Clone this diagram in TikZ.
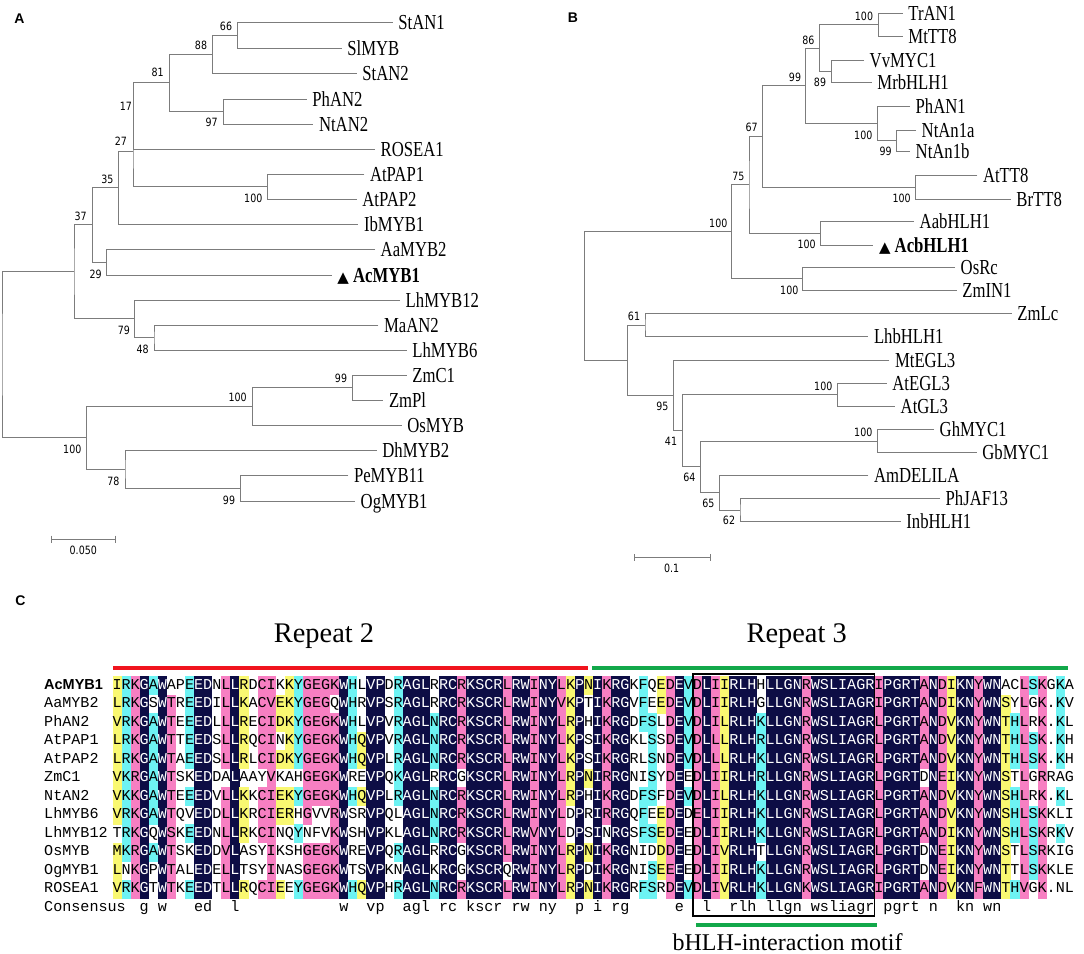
\documentclass[tikz,border=0pt]{standalone}
\usepackage{fontspec}
\usepackage{graphicx}
\setmainfont{Liberation Serif}
\newfontfamily\monof{Liberation Mono}
\newfontfamily\sansf{Liberation Sans}
\newfontfamily\bootf{DejaVu Sans}
\definecolor{alnavy}{HTML}{0D0D45}
\definecolor{alpink}{HTML}{F77FC2}
\definecolor{alcyan}{HTML}{6DF3F3}
\definecolor{alyellow}{HTML}{F9F871}
\definecolor{treegray}{HTML}{7C7C7C}
\definecolor{repred}{HTML}{F0141E}
\definecolor{repgreen}{HTML}{12A84A}

\newcommand\stretchlab[1]{\scalebox{1}[1.28]{#1}}
\newcommand\stretchnum[1]{\scalebox{1}[1.2]{#1}}
\def\alnavyname{alnavy}
\newcommand\alcell[4]{%
  \def\alfillc{#3}%
  \ifx\alfillc\empty\else
    \fill[fill=\alfillc] ({112.5+(#1-1)*9.07},{685+(#2-1)*18.5-8.6}) rectangle ++(9.17,18.6);%
  \fi
  \ifx\alfillc\alnavyname\def\altextc{white}\else\def\altextc{black}\fi
  \node[alchar,text=\altextc] (c#1r#2) at ({112.5+(#1-0.5)*9.07},{685+(#2-1)*18.5+4.3}) {#4};%
}
\newcommand\alcons[2]{%
  \node[alchar] (cons#1) at ({112.5+(#1-0.5)*9.07},{911.3}) {#2};%
}

\ExplSyntaxOn
\int_new:N \l_al_cnt_int
\int_new:N \l_al_max_int
\tl_new:N \l_al_best_tl
\tl_new:N \l_al_ch_tl
\tl_new:N \l_al_lvl_tl
\bool_new:N \l_al_fill_bool
\tl_const:cn { c_al_row_1_tl }  { IRKGAWAPEE DNLLRDCIKK YGEGKWHLVP DRAGLRRCRK SCRLRWINYL KPNIKRGKFQ EDEVDLIIRL HHLLGNRWSL IAGRIPGRTA NDIKNYWNAC LSKGKA }
\tl_const:cn { c_al_row_2_tl }  { LRKGSWTREE DILLKACVEK YGEGQWHRVP SRAGLRRCRK SCRLRWINYV KPTIKRGVFE EDEVDLIIRL HGLLGNRWSL IAGRIPGRTA NDIKNYWNSY LGK.KV }
\tl_const:cn { c_al_row_3_tl }  { VRKGAWTEEE DLLLRECIDK YGEGKWHLVP VRAGLNRCRK SCRLRWINYL RPHIKRGDFS LDEVDLILRL HKLLGNRWSL IAGRLPGRTA NDVKNYWNTH LRK.KL }
\tl_const:cn { c_al_row_4_tl }  { LRKGAWTTEE DSLLRQCINK YGEGKWHQVP VRAGLNRCRK SCRLRWINYL KPSIKRGKLS SDEVDLLLRL HRLLGNRWSL IAGRLPGRTA NDVKNYWNTH LSK.KH }
\tl_const:cn { c_al_row_5_tl }  { LRKGAWTAEE DSLLRLCIDK YGEGKWHQVP LRAGLNRCRK SCRLRWINYL KPSIKRGRLS NDEVDLLLRL HKLLGNRWSL IAGRLPGRTA NDVKNYWNTH LSK.KH }
\tl_const:cn { c_al_row_6_tl }  { VKRGAWTSKE DDALAAYVKA HGEGKWREVP QKAGLRRCGK SCRLRWINYL RPNIRRGNIS YDEEDLIIRL HRLLGNRWSL IAGRLPGRTD NEIKNYWNST LGRRAG }
\tl_const:cn { c_al_row_7_tl }  { VKKGAWTEEE DVLLKKCIEK YGEGKWHQVP LRAGLNRCRK SCRLRWINYL RPHIKRGDFS FDEVDLILRL HKLLGNRWSL IAGRLPGRTA NDVKNYWNSH LRK.KL }
\tl_const:cn { c_al_row_8_tl }  { VRKGAWTQVE DDLLKRCIER HGVVRWSRVP QLAGLNRCRK SCRLRWINYL DPRIRRGQFE EDEDELIIRL HKLLGNRWSL IAGRLPGRTA NDVKNYWNSH LSKKLI }
\tl_const:cn { c_al_row_9_tl }  { TRKGQWSKEE DNLLRKCINQ YNFVKWSHVP KLAGLNRCRK SCRLRWVNYL DPSINRGSFS EDEEDLIIRL HKLLGNRWSL IAGRLPGRTA NDIKNYWNSH LSKRKV }
\tl_const:cn { c_al_row_10_tl } { MKRGAWTSKE DDVLASYIKS HGEGKWREVP QRAGLRRCGK SCRLRWINYL RPNIKRGNID DDEEDLIVRL HTLLGNRWSL IAGRLPGRTD NEIKNYWNST LSRKIG }
\tl_const:cn { c_al_row_11_tl } { LNKGPWTALE DELLTSYINA SGEGKWTSVP KNAGLKRCGK SCRQRWINYL RPDIKRGNIS EEEEDLIIRL HKLLGNRWSL IAGRLPGRTD NEIKNYWNTT LSKKLE }
\tl_const:cn { c_al_row_12_tl } { VRKGTWTKEE DTLLRQCIEE YGEGKWHQVP HRAGLNRCRK SCRLRWINYL RPNIKRGRFS RDEVDLIVRL HKLLGNKWSL IAGRIPGRTA NDVKNFWNTH VGK.NL }
\cs_new:Npn \al_ch:nn #1#2 { \tl_item:cn { c_al_row_#1_tl } {#2} }
\cs_new:Npn \al_grp:n #1
  {
    \str_case:nnF {#1}
      {
        {I}{1} {L}{1} {V}{1} {M}{1}
        {K}{2} {R}{2}
        {D}{3} {E}{3}
        {N}{4} {Q}{4}
        {S}{5} {T}{5}
        {F}{6} {Y}{6} {W}{6}
      }
      {#1}
  }
\cs_generate_variant:Nn \al_grp:n { V }
\cs_new_protected:Npn \al_count:nn #1#2
  {
    \int_zero:N \l_al_cnt_int
    \int_step_inline:nn { 12 }
      {
        \str_if_eq:eeT { \al_ch:nn {##1} {#1} } {#2}
          { \int_incr:N \l_al_cnt_int }
      }
  }
\cs_generate_variant:Nn \al_count:nn { nV }
\cs_new_protected:Npn \al_column:n #1
  {
    \int_zero:N \l_al_max_int
    \tl_clear:N \l_al_best_tl
    \int_step_inline:nn { 12 }
      {
        \tl_set:Nx \l_al_ch_tl { \al_ch:nn {##1} {#1} }
        \str_if_eq:VnF \l_al_ch_tl { . }
          {
            \al_count:nV {#1} \l_al_ch_tl
            \int_compare:nNnT \l_al_cnt_int > \l_al_max_int
              {
                \int_set_eq:NN \l_al_max_int \l_al_cnt_int
                \tl_set_eq:NN \l_al_best_tl \l_al_ch_tl
              }
          }
      }
    \int_compare:nNnTF \l_al_max_int = { 12 }
      { \tl_set:Nn \l_al_lvl_tl { alnavy } }
      {
        \int_compare:nNnTF \l_al_max_int > { 8 }
          { \tl_set:Nn \l_al_lvl_tl { alpink } }
          {
            \int_compare:nNnTF \l_al_max_int > { 6 }
              { \tl_set:Nn \l_al_lvl_tl { alcyan } }
              {
                \int_compare:nNnTF \l_al_max_int > { 3 }
                  { \tl_set:Nn \l_al_lvl_tl { alyellow } }
                  { \tl_clear:N \l_al_lvl_tl }
              }
          }
      }
    \int_step_inline:nn { 12 }
      {
        \tl_set:Nx \l_al_ch_tl { \al_ch:nn {##1} {#1} }
        \bool_set_false:N \l_al_fill_bool
        \tl_if_empty:NF \l_al_lvl_tl
          {
            \str_if_eq:eeT { \al_grp:V \l_al_ch_tl } { \al_grp:V \l_al_best_tl }
              { \bool_set_true:N \l_al_fill_bool }
          }
        \bool_if:NTF \l_al_fill_bool
          { \use:e { \exp_not:N \alcell {#1} {##1} { \l_al_lvl_tl } { \l_al_ch_tl } } }
          { \use:e { \exp_not:N \alcell {#1} {##1} { } { \l_al_ch_tl } } }
      }
    \int_compare:nNnT \l_al_max_int = { 12 }
      { \use:e { \exp_not:N \alcons {#1} { \str_lowercase:f { \l_al_best_tl } } } }
  }
\cs_new_protected:Npn \DrawAlignment
  { \int_step_function:nN { 106 } \al_column:n }
\ExplSyntaxOff

\begin{document}
\begin{tikzpicture}[x=1pt,y=-1pt,
  branch/.style={draw=treegray,line width=1pt},
  leaflab/.style={anchor=base west,inner sep=0pt,font=\fontsize{16.7}{18}\selectfont},
  boot/.style={anchor=center,inner sep=0pt,font=\bootf\fontsize{9.5}{10}\selectfont},
  panellab/.style={anchor=center,inner sep=0pt,font=\sansf\bfseries\fontsize{14}{16}\selectfont},
  alchar/.style={anchor=base,inner sep=0pt,font=\monof\fontsize{15.1}{16}\selectfont},
  rowlab/.style={anchor=base west,inner sep=0pt,font=\monof\fontsize{15.1}{16}\selectfont},
  scalelab/.style={anchor=center,inner sep=0pt,font=\bootf\fontsize{9.5}{10}\selectfont},
  bar/.style={line width=4pt},
]
\useasboundingbox (0,0) rectangle (1084,953);

% panel letters
\node[panellab] (labA) at (19.5,18.5) {A};
\node[panellab] (labB) at (573,17.5) {B};
\node[panellab] (labC) at (20.5,601) {C};

% ---------------- Tree A ----------------
\foreach \n/\x/\y in {StAN1/392.7/22.7, SlMYB/341.7/48.3, StAN2/356.7/73.3, PhAN2/306.7/99,
  NtAN2/313.3/124, ROSEA1/375/149, AtPAP1/364.3/174, AtPAP2/356.7/199.3, IbMYB1/358.3/224.3,
  AaMYB2/375/249.3, AcMYB1/331.7/275, LhMYB12/400/300, MaAN2/378.3/325, LhMYB6/406.7/350,
  ZmC1/406.7/375, ZmPl/383.3/400, OsMYB/401.7/425, DhMYB2/376.7/450, PeMYB11/348.3/475.7,
  OgMYB1/355/501}
  {\coordinate (A-\n) at (\x,\y);}
\foreach \n/\x/\y in {a66/237.3/35.5, a88/212.7/54.4, a97/223.3/111.5, a81/169.3/82.95,
  a17/133.7/115.98, aPAP/267.3/186.65, a27/133/151.3, a35/118.3/187.8, a29/106.7/262.15,
  a37/92.3/224.98, a48/154/337.5, a79/134.3/318.75, aX/74/271.87, a99z/352.7/387.5,
  a100z/252.3/406.25, a99o/240.7/488.35, a78/125/469.18, a100m/86.7/437.7, rootA/2/354.8}
  {\coordinate (\n) at (\x,\y);}
\foreach \p/\n/\c in {A-StAN1/a66/A-SlMYB, a66/a88/A-StAN2, A-PhAN2/a97/A-NtAN2, a88/a81/a97,
  a81/a17/A-ROSEA1, A-AtPAP1/aPAP/A-AtPAP2, a17/a27/aPAP, a27/a35/A-IbMYB1,
  A-AaMYB2/a29/A-AcMYB1, a35/a37/a29, A-MaAN2/a48/A-LhMYB6, A-LhMYB12/a79/a48, a37/aX/a79,
  A-ZmC1/a99z/A-ZmPl, a99z/a100z/A-OsMYB, A-PeMYB11/a99o/A-OgMYB1, A-DhMYB2/a78/a99o,
  a100z/a100m/a78, aX/rootA/a100m}
  {\draw[branch] (\p) -| (\n) |- (\c);}
\foreach \n in {StAN1,SlMYB,StAN2,PhAN2,NtAN2,ROSEA1,AtPAP1,AtPAP2,IbMYB1,AaMYB2,LhMYB12,
  MaAN2,LhMYB6,ZmC1,ZmPl,OsMYB,DhMYB2,PeMYB11,OgMYB1}
  {\node[leaflab] (LA-\n) at ([shift={(5.5,7)}]A-\n) {\stretchlab{\n}};}
\node[leaflab] (LA-AcMYB1) at ([shift={(5.5,7)}]A-AcMYB1)
  {{\bootf\fontsize{15}{16}\selectfont ▲}\stretchlab{\textbf{ AcMYB1}}};
\foreach \t/\x/\y [count=\i] in {66/226/26, 88/201/45, 97/211.7/122.7, 81/157.7/72.7,
  17/126/106.7, 27/121/141.7, 100/253.3/198.3, 35/107.3/179, 37/80.7/216, 29/95.7/274,
  79/124/330, 48/142.7/349.3, 99/341/378.7, 100/237.7/397.3, 100/72.3/449.3, 78/113.3/481,
  99/229/500}
  {\node[boot] (bA\i) at (\x,\y) {\stretchnum{\t}};}
\coordinate (sA1) at (51.7,539);
\coordinate (sA2) at (115,539);
\draw[branch] (sA1) -- (sA2);
\draw[branch] ([yshift=3.5pt]sA1) -- ([yshift=-3.5pt]sA1);
\draw[branch] ([yshift=3.5pt]sA2) -- ([yshift=-3.5pt]sA2);
\node[scalelab] (sAlab) at (83.3,550) {\stretchnum{0.050}};

% ---------------- Tree B ----------------
\foreach \n/\x/\y in {TrAN1/902.7/13.3, MtTT8/902.7/36, VvMYC1/864/60, MrbHLH1/871.7/82.7,
  PhAN1/910/106, NtAn1a/916/130, NtAn1b/910/151.7, AtTT8/977.3/175, BrTT8/1010.7/199,
  AabHLH1/914/221.7, AcbHLH1/873.3/245, OsRc/955/267.7, ZmIN1/956.7/290, ZmLc/1011.7/313.3,
  LhbHLH1/868.3/336.7, MtEGL3/889.3/360, AtEGL3/886.7/383.3, AtGL3/895/406,
  GhMYC1/934/429.3, GbMYC1/976.7/452.7, AmDELILA/868.3/475, PhJAF13/940/498.3,
  InbHLH1/900.7/521.7}
  {\coordinate (B-\n) at (\x,\y);}
\foreach \n/\x/\y in {b100t/878.3/24.65, b89/831.7/71.35, b86/819.3/48, b99n/896.7/140.85,
  b100p/877.3/123.43, b99/805.7/85.7, b100tt/915/187, b67/762.3/136.35, b100a/820/233.35,
  b75/749/184.85, b100o/802.7/278.85, b100r/731.7/231.85, b61/645/325, b100e/837.7/394.65,
  b100g/877.3/441, b62/740/510, b65/719.3/492.5, b64/700.7/466.75, b41/682.3/430.7,
  b95/673.3/395.35, bY/627.7/360.18, rootB/584.3/296}
  {\coordinate (\n) at (\x,\y);}
\foreach \p/\n/\c in {B-TrAN1/b100t/B-MtTT8, B-VvMYC1/b89/B-MrbHLH1, b100t/b86/b89,
  B-NtAn1a/b99n/B-NtAn1b, B-PhAN1/b100p/b99n, b86/b99/b100p, B-AtTT8/b100tt/B-BrTT8,
  b99/b67/b100tt, B-AabHLH1/b100a/B-AcbHLH1, b67/b75/b100a, B-OsRc/b100o/B-ZmIN1,
  b75/b100r/b100o, B-ZmLc/b61/B-LhbHLH1, B-AtEGL3/b100e/B-AtGL3, B-GhMYC1/b100g/B-GbMYC1,
  B-PhJAF13/b62/B-InbHLH1, B-AmDELILA/b65/b62, b100g/b64/b65, b100e/b41/b64,
  B-MtEGL3/b95/b41, b61/bY/b95, b100r/rootB/bY}
  {\draw[branch] (\p) -| (\n) |- (\c);}
\foreach \n in {TrAN1,MtTT8,VvMYC1,MrbHLH1,PhAN1,NtAn1a,NtAn1b,AtTT8,BrTT8,AabHLH1,OsRc,
  ZmIN1,ZmLc,LhbHLH1,MtEGL3,AtEGL3,AtGL3,GhMYC1,GbMYC1,AmDELILA,PhJAF13,InbHLH1}
  {\node[leaflab] (LB-\n) at ([shift={(5.5,7)}]B-\n) {\stretchlab{\n}};}
\node[leaflab] (LB-AcbHLH1) at ([shift={(5.5,7)}]B-AcbHLH1)
  {{\bootf\fontsize{15}{16}\selectfont ▲}\stretchlab{\textbf{ AcbHLH1}}};
\foreach \t/\x/\y [count=\i] in {100/864/16.7, 86/808.3/40, 89/820/82.7, 99/795/77.3,
  100/863.3/135, 99/885.7/151.7, 67/751.7/127.7, 100/901.7/198.3, 75/738.3/176,
  100/718.3/223.3, 100/806.7/244.3, 100/789.3/290, 61/634/316.7, 95/662.3/406,
  100/823.3/386, 41/671/441.7, 100/863.3/432.7, 64/689.3/477.3, 65/708.3/503.3, 62/729/520.7}
  {\node[boot] (bB\i) at (\x,\y) {\stretchnum{\t}};}
\coordinate (sB1) at (634.3,557.7);
\coordinate (sB2) at (710,557.7);
\draw[branch] (sB1) -- (sB2);
\draw[branch] ([yshift=3.5pt]sB1) -- ([yshift=-3.5pt]sB1);
\draw[branch] ([yshift=3.5pt]sB2) -- ([yshift=-3.5pt]sB2);
\node[scalelab] (sBlab) at (671.7,568.3) {\stretchnum{0.1}};

% ---------------- Panel C ----------------
\node[anchor=base,inner sep=0pt,font=\fontsize{28.4}{30}\selectfont] (rep2) at (324,642.5) {Repeat 2};
\node[anchor=base,inner sep=0pt,font=\fontsize{28.4}{30}\selectfont] (rep3) at (796.7,642.5) {Repeat 3};
\coordinate (r2a) at (113,668);
\coordinate (r2b) at (588,668);
\coordinate (r3a) at (592,668);
\coordinate (r3b) at (1068,668);
\draw[bar,repred] (r2a) -- (r2b);
\draw[bar,repgreen] (r3a) -- (r3b);

\node[rowlab,font=\sansf\bfseries\fontsize{14.5}{16}\selectfont] (rl1) at (44,689.3) {AcMYB1};
\foreach \n [count=\i from 2] in {AaMYB2,PhAN2,AtPAP1,AtPAP2,ZmC1,NtAN2,LhMYB6,LhMYB12,OsMYB,OgMYB1,ROSEA1}
  {\node[rowlab] (rl\i) at (44,{685+(\i-1)*18.5+4.3}) {\n};}
\node[rowlab] (rlcons) at (44,911.3) {Consensus};

\DrawAlignment

\coordinate (boxa) at (693,674);
\coordinate (boxb) at (874.5,916);
\draw[line width=1.4pt] (boxa) rectangle (boxb);
\coordinate (ma) at (696,925);
\coordinate (mb) at (877,925);
\draw[bar,repgreen] (ma) -- (mb);
\node[anchor=base,inner sep=0pt,font=\fontsize{24}{26}\selectfont] (motif) at (787.5,950.5) {bHLH-interaction motif};
\end{tikzpicture}
\end{document}
